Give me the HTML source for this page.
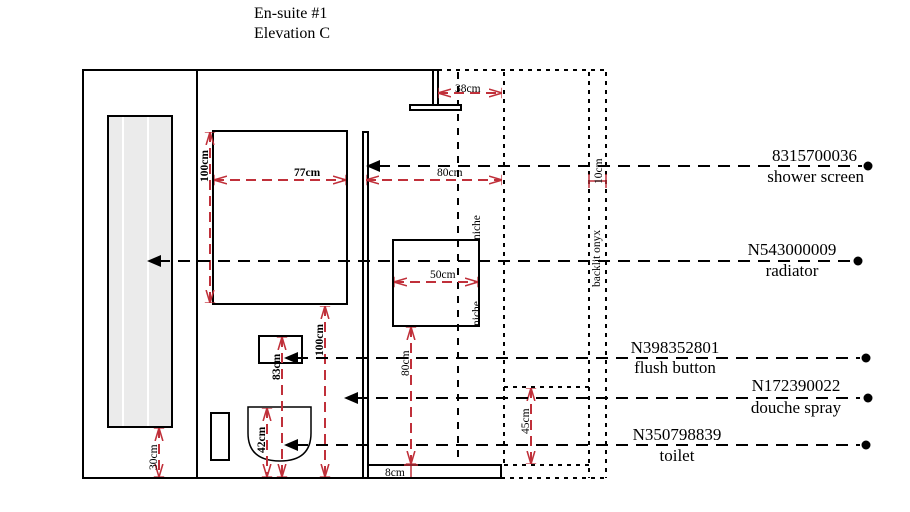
<!DOCTYPE html>
<html><head><meta charset="utf-8"><style>
html,body{margin:0;padding:0;background:#fff;}
svg{display:block;}
text{font-family:"Liberation Serif","DejaVu Serif",serif;}
</style></head><body>
<svg width="910" height="512" viewBox="0 0 910 512" xmlns="http://www.w3.org/2000/svg">
<defs>
<marker id="ra" viewBox="0 0 10 10" refX="10" refY="5" markerUnits="userSpaceOnUse" markerWidth="13" markerHeight="13" orient="auto-start-reverse"><path d="M0,2 L10,5 L0,8" fill="none" stroke="#c0303a" stroke-width="1.2" stroke-dasharray="none"/><line x1="10" y1="1" x2="10" y2="9" stroke="#c0303a" stroke-width="1" stroke-dasharray="none"/></marker>
</defs>
<rect width="910" height="512" fill="#fff"/>
<text x="254" y="18" font-size="16">En-suite #1</text>
<text x="254" y="38" font-size="16">Elevation C</text>

<g stroke="#000" stroke-width="2" stroke-dasharray="4,5" fill="none">
<line x1="438" y1="70" x2="607" y2="70"/>
<line x1="504" y1="72" x2="504" y2="465"/>
<line x1="589" y1="72" x2="589" y2="478"/>
<line x1="606" y1="72" x2="606" y2="478"/>
<line x1="504" y1="387" x2="589" y2="387"/>
<line x1="504" y1="465" x2="589" y2="465"/>
<line x1="501" y1="478" x2="606" y2="478"/>
</g>
<line x1="458" y1="72" x2="458" y2="463" stroke="#000" stroke-width="2" stroke-dasharray="7,7"/>

<g stroke="#000" stroke-width="2" fill="none">
<rect x="83" y="70" width="114" height="408"/>
<line x1="197" y1="70" x2="434" y2="70"/>
<line x1="197" y1="478" x2="368" y2="478"/>
<rect x="108" y="116" width="64" height="311" fill="#ebebeb"/>
<rect x="213" y="131" width="134" height="173"/>
<rect x="363" y="132" width="5" height="346"/>
<rect x="433" y="70" width="5" height="35" fill="#fff"/>
<rect x="410" y="105" width="51" height="5" fill="#fff"/>
<rect x="393" y="240" width="86" height="86"/>
<rect x="259" y="336" width="43" height="27"/>
<rect x="211" y="413" width="18" height="47"/>
<rect x="368" y="465" width="133" height="13"/>
</g>
<line x1="123" y1="117" x2="123" y2="426" stroke="#fff" stroke-width="2"/>
<line x1="148" y1="117" x2="148" y2="426" stroke="#fff" stroke-width="2"/>
<path d="M248,407 H311 V433 Q311,461 280,461 Q248,461 248,433 Z" fill="none" stroke="#000" stroke-width="1.5"/>

<g stroke="#c0303a" stroke-width="2" stroke-dasharray="10,6" fill="none" marker-start="url(#ra)" marker-end="url(#ra)">
<line x1="210" y1="132" x2="210" y2="303"/>
<line x1="214" y1="180" x2="346" y2="180"/>
<line x1="366" y1="180" x2="502" y2="180"/>
<line x1="438" y1="93" x2="502" y2="93"/>
<line x1="394" y1="282" x2="478" y2="282"/>
<line x1="325" y1="306" x2="325" y2="477"/>
<line x1="282" y1="337" x2="282" y2="477"/>
<line x1="267" y1="408" x2="267" y2="477"/>
<line x1="411" y1="327" x2="411" y2="464"/>
<line x1="531" y1="388" x2="531" y2="464"/>
<line x1="159" y1="428" x2="159" y2="477"/>
</g>
<g stroke="#c0303a" stroke-width="1.5">
<line x1="590" y1="181" x2="605" y2="181"/>
<line x1="589" y1="174" x2="589" y2="188"/><line x1="606" y1="174" x2="606" y2="188"/>
<line x1="411" y1="466" x2="411" y2="477"/>
<line x1="404" y1="465" x2="418" y2="465"/>
</g>
<g font-size="11.5" fill="#000">
<text x="294" y="176" font-weight="bold">77cm</text>
<text x="437" y="176">80cm</text>
<text x="455" y="92">38cm</text>
<text x="430" y="278">50cm</text>
<text x="385" y="476">8cm</text>
<text transform="translate(208,182) rotate(-90)" font-weight="bold">100cm</text>
<text transform="translate(323,356) rotate(-90)" font-weight="bold">100cm</text>
<text transform="translate(280,380) rotate(-90)" font-weight="bold">83cm</text>
<text transform="translate(265,453) rotate(-90)" font-weight="bold">42cm</text>
<text transform="translate(409,376) rotate(-90)">80cm</text>
<text transform="translate(529,434) rotate(-90)">45cm</text>
<text transform="translate(157,470) rotate(-90)">30cm</text>
<text transform="translate(602,184) rotate(-90)">10cm</text>
<text transform="translate(600,287) rotate(-90)">backlit onyx</text>
<text transform="translate(480,240) rotate(-90)">niche</text>
<text transform="translate(480,326) rotate(-90)">niche</text>
</g>

<g stroke="#000" stroke-width="2" stroke-dasharray="12,8" fill="none">
<line x1="378" y1="166" x2="862" y2="166"/>
<line x1="158" y1="261" x2="852" y2="261"/>
<line x1="296" y1="358" x2="860" y2="358"/>
<line x1="356" y1="398" x2="860" y2="398"/>
<line x1="296" y1="445" x2="860" y2="445"/>
</g>
<g fill="#000">
<path d="M366,166 L380,160 L380,172 Z"/>
<path d="M147,261 L161,255 L161,267 Z"/>
<path d="M284,358 L298,352 L298,364 Z"/>
<path d="M344,398 L358,392 L358,404 Z"/>
<path d="M284,445 L298,439 L298,451 Z"/>
<circle cx="868" cy="166" r="4.5"/>
<circle cx="858" cy="261" r="4.5"/>
<circle cx="866" cy="358" r="4.5"/>
<circle cx="868" cy="398" r="4.5"/>
<circle cx="866" cy="445" r="4.5"/>
</g>
<g font-size="17" fill="#000">
<text x="857" y="161" text-anchor="end">8315700036</text>
<text x="864" y="182" text-anchor="end">shower screen</text>
<text x="792" y="255" text-anchor="middle">N543000009</text>
<text x="792" y="276" text-anchor="middle">radiator</text>
<text x="675" y="353" text-anchor="middle">N398352801</text>
<text x="675" y="373" text-anchor="middle">flush button</text>
<text x="796" y="391" text-anchor="middle">N172390022</text>
<text x="796" y="413" text-anchor="middle">douche spray</text>
<text x="677" y="440" text-anchor="middle">N350798839</text>
<text x="677" y="461" text-anchor="middle">toilet</text>
</g>
</svg>
</body></html>
